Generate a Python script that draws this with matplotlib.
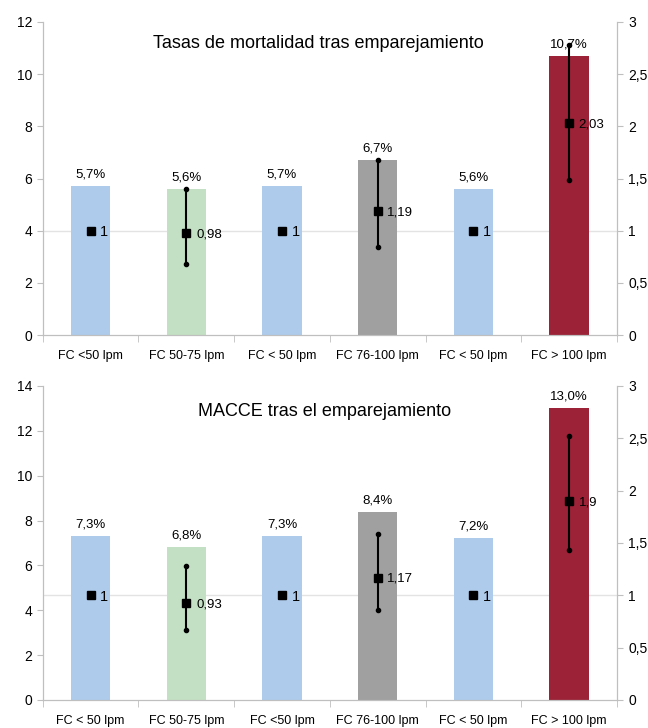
import numpy as np
import matplotlib.pyplot as plt
from matplotlib.ticker import FixedLocator, FuncFormatter

plt.rcParams['font.family'] = ['Liberation Sans', 'DejaVu Sans']

# top panel: mortality
top_labels = ["FC <50 lpm", "FC 50-75 lpm", "FC < 50 lpm", "FC 76-100 lpm", "FC < 50 lpm", "FC > 100 lpm"]
top_pct = [5.7, 5.6, 5.7, 6.7, 5.6, 10.7]
top_hr = [1, 0.98, 1, 1.19, 1, 2.03]
top_lo = [np.nan, 0.68, np.nan, 0.84, np.nan, 1.49]
top_hi = [np.nan, 1.40, np.nan, 1.68, np.nan, 2.78]

# bottom panel: MACCE
bot_labels = ["FC < 50 lpm", "FC 50-75 lpm", "FC <50 lpm", "FC 76-100 lpm", "FC < 50 lpm", "FC > 100 lpm"]
bot_pct = [7.3, 6.8, 7.3, 8.4, 7.2, 13.0]
bot_hr = [1, 0.93, 1, 1.17, 1, 1.9]
bot_lo = [np.nan, 0.67, np.nan, 0.86, np.nan, 1.43]
bot_hi = [np.nan, 1.28, np.nan, 1.59, np.nan, 2.52]

bar_colors = ['#AECBEB', '#C4E0C4', '#AECBEB', '#A0A0A0', '#AECBEB', '#9C2237']
axis_gray = '#BFBFBF'


def comma(v, pos=None):
    return ('%g' % v).replace('.', ',')


def draw_panel(ax, labels, pct, hr, lo, hi, ymax, title, title_xy):
    x = np.arange(len(labels))
    # reference line at HR = 1, behind the bars
    ax.axhline(ymax / 3.0, color='#E3E3E3', lw=1, zorder=1)
    bars = ax.bar(x, pct, width=0.41, color=bar_colors, zorder=2)
    for b, v in zip(bars, pct):
        ax.annotate(('%.1f%%' % v).replace('.', ','), (b.get_x() + b.get_width() / 2, v),
                    xytext=(0, 4), textcoords='offset points', ha='center', va='bottom', fontsize=9.5)
    ax.set_xlim(-0.5, len(labels) - 0.5)
    ax.set_ylim(0, ymax)
    ax.set_yticks(np.arange(0, ymax + 1, 2))
    ax.set_xticks(x)
    ax.set_xticklabels(labels, fontsize=9)
    ax.xaxis.set_minor_locator(FixedLocator(np.arange(-0.5, len(labels), 1.0)))
    ax.tick_params(axis='x', which='major', length=0, pad=11)
    ax.tick_params(axis='x', which='minor', length=5, color=axis_gray)
    ax.tick_params(axis='y', length=4, color=axis_gray, labelsize=10)
    for s in ['left', 'bottom', 'right']:
        ax.spines[s].set_color(axis_gray)
    ax.spines['top'].set_visible(False)
    ax.text(title_xy[0], title_xy[1], title, transform=ax.transAxes, ha='center', va='center', fontsize=13)

    ax2 = ax.twinx()
    ax2.set_ylim(0, 3)
    ax2.set_yticks(np.arange(0, 3.01, 0.5))
    ax2.yaxis.set_major_formatter(FuncFormatter(comma))
    ax2.tick_params(axis='y', length=4, color=axis_gray, labelsize=10, pad=4)
    for s in ['left', 'bottom', 'right']:
        ax2.spines[s].set_color(axis_gray)
    ax2.spines['top'].set_visible(False)
    hr = np.array(hr, dtype=float)
    err = np.array([hr - np.array(lo), np.array(hi) - hr])
    ax2.errorbar(x, hr, yerr=np.nan_to_num(err), fmt='none', ecolor='black', elinewidth=1.5, capsize=0)
    ax2.plot(x, lo, 'o', color='black', markersize=3)
    ax2.plot(x, hi, 'o', color='black', markersize=3)
    ax2.plot(x, hr, 's', color='black', markersize=6)
    for xi, v in zip(x, hr):
        ax2.annotate(comma(v), (xi, v), xytext=(7, -1), textcoords='offset points',
                     ha='left', va='center', fontsize=10.5 if v == 1 else 9.5)
    return ax2


fig = plt.figure(figsize=(6.48, 7.28), dpi=100)
ax_top = fig.add_axes([0.066, 0.5398, 0.886, 0.430])
ax_bot = fig.add_axes([0.066, 0.0385, 0.886, 0.4313])

draw_panel(ax_top, top_labels, top_pct, top_hr, top_lo, top_hi, 12,
           'Tasas de mortalidad tras emparejamiento', (0.48, 0.932))
draw_panel(ax_bot, bot_labels, bot_pct, bot_hr, bot_lo, bot_hi, 14,
           'MACCE tras el emparejamiento', (0.49, 0.918))

fig.savefig('out.png', dpi=100)
